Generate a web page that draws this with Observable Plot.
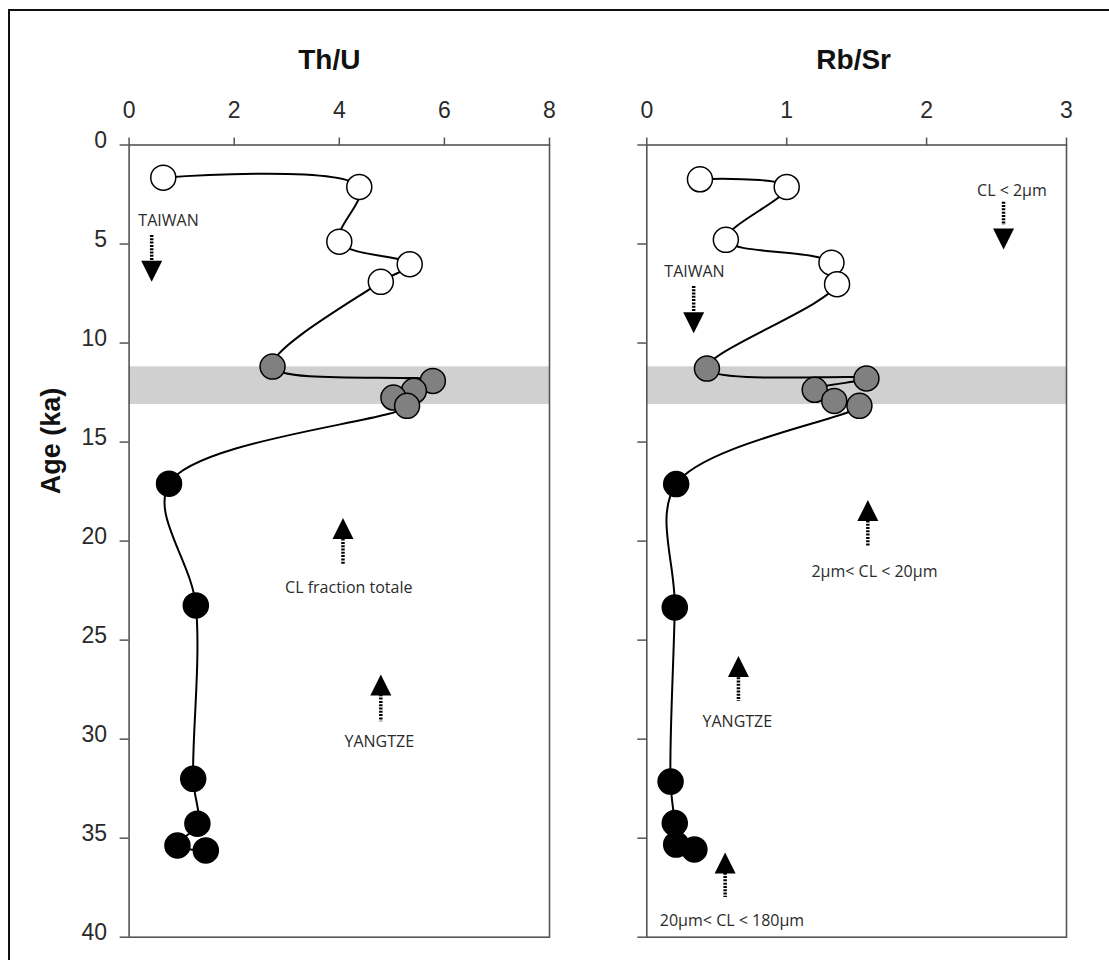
<!DOCTYPE html>
<html>
<head>
<meta charset="utf-8">
<script src="https://cdn.jsdelivr.net/npm/d3@7"></script>
<script src="https://cdn.jsdelivr.net/npm/@observablehq/plot@0.6"></script>
<style>
  html, body { margin: 0; padding: 0; background: #fff; overflow: hidden; width: 1109px; height: 960px; }
  #wrap { position: relative; width: 1109px; height: 960px; }
  #left, #right { position: absolute; top: 0; }
  #left { left: 0; }
  #right { left: 560px; }
  #border { position: absolute; left: 7.5px; top: 8.5px; width: 1300px; height: 1300px;
            border-left: 2px solid #111; border-top: 2px solid #111; pointer-events: none; }
</style>
</head>
<body>
<div id="wrap">
  <div id="left"></div>
  <div id="right"></div>
  <div id="border"></div>
</div>
<script>
// ---------- data ----------
const groups = ["open","open","open","open","open","grey","grey","grey","grey","grey","black","black","black","black","black","black"];

const ageThU = [1.65, 2.12, 4.88, 6.02, 6.91, 11.19, 11.91, 12.41, 12.75, 13.17, 17.1, 23.25, 32.0, 34.27, 35.37, 35.62];
const thU    = [0.65, 4.38, 4.00, 5.34, 4.79, 2.73, 5.78, 5.42, 5.03, 5.29, 0.76, 1.27, 1.22, 1.30, 0.92, 1.46];

const ageRbSr = [1.73, 2.12, 4.79, 5.94, 7.03, 11.29, 11.79, 12.36, 12.92, 13.17, 17.12, 23.35, 32.14, 34.24, 35.32, 35.57];
const rbSr    = [0.38, 1.00, 0.565, 1.32, 1.36, 0.43, 1.57, 1.20, 1.34, 1.52, 0.21, 0.20, 0.17, 0.20, 0.21, 0.34];

const bandFrom = [11.2];
const bandTo   = [13.1];

const ticksThU  = [0, 2, 4, 6, 8];
const ticksRbSr = [0, 1, 2, 3];
const ticksAge  = [0, 5, 10, 15, 20, 25, 30, 35, 40];

// annotations, Th/U panel
const annThULabel    = ["TAIWAN", "CL fraction totale", "YANGTZE"];
const annThULabelX   = [0.75, 4.18, 4.76];
const annThULabelAge = [4.11, 22.63, 30.38];
const annThUArrowX   = [0.43, 4.07, 4.79];
const annThUShaftA   = [4.57, 19.9, 27.76];
const annThUShaftB   = [5.83, 21.2, 29.12];
const annThUHeadAge  = [6.38, 19.37, 27.27];
const annThUDir      = ["down", "up", "up"];

// annotations, Rb/Sr panel
const annRbLabel    = ["CL < 2µm", "TAIWAN", "2µm< CL < 20µm", "YANGTZE", "20µm< CL < 180µm"];
const annRbLabelX   = [2.61, 0.341, 1.627, 0.647, 0.609];
const annRbLabelAge = [2.55, 6.67, 21.8, 29.37, 39.42];
const annRbArrowX   = [2.55, 0.335, 1.58, 0.655, 0.56];
const annRbShaftA   = [2.89, 7.14, 18.98, 26.9, 36.77];
const annRbShaftB   = [4.06, 8.44, 20.29, 28.1, 38.0];
const annRbHeadAge  = [4.74, 8.98, 18.46, 26.33, 36.25];
const annRbDir      = ["down", "down", "up", "up", "up"];

// ---------- helpers ----------
const fillFor = {open: "#ffffff", grey: "#808080", black: "#000000"};
const FONT = "Liberation Sans, Arial, Helvetica, sans-serif";
const ANNFONT = "Open Sans, Liberation Sans, sans-serif";

const triDown = {draw(ctx, size) { const h = Math.sqrt(size / Math.PI); ctx.moveTo(-h, -h); ctx.lineTo(h, -h); ctx.lineTo(0, h); ctx.closePath(); }};
const triUp   = {draw(ctx, size) { const h = Math.sqrt(size / Math.PI); ctx.moveTo(-h, h); ctx.lineTo(h, h); ctx.lineTo(0, -h); ctx.closePath(); }};

function panel(opts) {
  const rows = opts.vals.map((v, i) => ({v, age: opts.ages[i], fill: fillFor[groups[i]]}));
  const band = bandFrom.map((a, i) => ({a, b: bandTo[i]}));
  const ann = opts.label.map((t, i) => ({
    t, lx: opts.labelX[i], la: opts.labelAge[i], ax: opts.arrowX[i],
    s1: opts.shaftA[i], s2: opts.shaftB[i], h: opts.headAge[i], dir: opts.dir[i]
  }));
  const xmin = opts.domain[0], xmax = opts.domain[1];
  return Plot.plot({
    width: opts.width, height: 960,
    marginLeft: opts.marginLeft, marginRight: opts.marginRight,
    marginTop: 144.5, marginBottom: 23.3,
    style: {background: "transparent", fontFamily: FONT, overflow: "visible"},
    x: {domain: opts.domain},
    y: {domain: [0, 40], reverse: true},
    color: {type: "identity"},
    marks: [
      Plot.rect(band, {x1: () => xmin, x2: () => xmax, y1: "a", y2: "b", fill: "#d0d0d0"}),
      Plot.frame({stroke: "#555", strokeWidth: 1.6}),
      Plot.axisX({anchor: "top", ticks: opts.ticks, tickSize: 8, tickPadding: 19, fontSize: 23,
                  tickFormat: d => String(d),
                  label: null, stroke: "#555", strokeWidth: 1.5, fill: "#2a2a2a", fontFamily: FONT}),
      // y tick lines
      Plot.axisY({anchor: "left", ticks: ticksAge, tickSize: 9, fontSize: 23,
                  label: null, stroke: "#555", strokeWidth: 1.5, tickFormat: () => ""}),
      // y tick labels (slightly raised)
      ...(opts.showY ? [Plot.axisY({anchor: "left", ticks: ticksAge, tickSize: 0, tickPadding: 22, fontSize: 23, dy: -4.5,
                  label: null, fill: "#2a2a2a", fontFamily: FONT, tickFormat: d => String(d)})] : []),
      Plot.line(rows, {x: "v", y: "age", curve: "catmull-rom", stroke: "#000", strokeWidth: 2}),
      Plot.dot(rows, {x: "v", y: "age", r: 12.5, fill: "fill", stroke: "#000", strokeWidth: 1.5}),
      Plot.ruleX(ann, {x: "ax", y1: "s1", y2: "s2", stroke: "#000", strokeWidth: 3.5, strokeDasharray: "2,1.3"}),
      Plot.dot(ann.filter(d => d.dir === "down"), {x: "ax", y: "h", r: 10.5, symbol: triDown, fill: "#000", stroke: "none"}),
      Plot.dot(ann.filter(d => d.dir === "up"), {x: "ax", y: "h", r: 10.5, symbol: triUp, fill: "#000", stroke: "none"}),
      Plot.text(ann, {x: "lx", y: "la", text: "t", fontSize: 16, fontFamily: ANNFONT, fill: "#2b2b2b",
                      textAnchor: "middle", lineAnchor: "bottom"}),
      Plot.text([opts.title], {frameAnchor: "top", dx: opts.titleDx, dy: -76.2, text: d => d, fontSize: 28,
                               fontWeight: "bold", fontFamily: FONT, fill: "#111", lineAnchor: "bottom"}),
      ...(opts.showY ? [Plot.text(["Age (ka)"], {frameAnchor: "left", y: () => 14.95, dx: -69.6, rotate: -90,
                               text: d => d, fontSize: 27, fontWeight: "bold", fontFamily: FONT, fill: "#111",
                               textAnchor: "middle", lineAnchor: "bottom"})] : [])
    ]
  });
}

document.getElementById("left").append(panel({
  vals: thU, ages: ageThU, domain: [0, 8], ticks: ticksThU, width: 560,
  marginLeft: 128.6, marginRight: 11, title: "Th/U", titleDx: -10, showY: true,
  label: annThULabel, labelX: annThULabelX, labelAge: annThULabelAge, arrowX: annThUArrowX,
  shaftA: annThUShaftA, shaftB: annThUShaftB, headAge: annThUHeadAge, dir: annThUDir
}));

document.getElementById("right").append(panel({
  vals: rbSr, ages: ageRbSr, domain: [0, 3], ticks: ticksRbSr, width: 549,
  marginLeft: 86.3, marginRight: 43, title: "Rb/Sr", titleDx: -3, showY: false,
  label: annRbLabel, labelX: annRbLabelX, labelAge: annRbLabelAge, arrowX: annRbArrowX,
  shaftA: annRbShaftA, shaftB: annRbShaftB, headAge: annRbHeadAge, dir: annRbDir
}));
</script>
</body>
</html>
